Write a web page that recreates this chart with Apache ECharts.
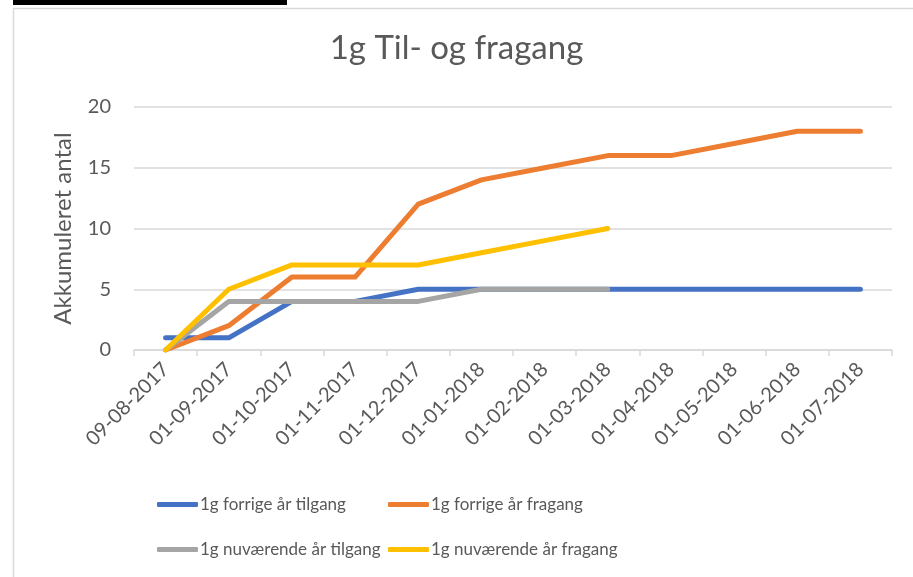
<!DOCTYPE html>
<html>
<head>
<meta charset="utf-8">
<script src="https://cdn.jsdelivr.net/npm/echarts@6/dist/echarts.min.js"></script>
<style>html,body{margin:0;padding:0;background:#fff}#c{width:913px;height:577px}</style>
</head>
<body>
<div id="c"></div>
<script>
var categories = ['09-08-2017','01-09-2017','01-10-2017','01-11-2017','01-12-2017','01-01-2018','01-02-2018','01-03-2018','01-04-2018','01-05-2018','01-06-2018','01-07-2018'];
var forrigeTilgang = [1,1,4,4,5,5,5,5,5,5,5,5];
var forrigeFragang = [0,2,6,6,12,14,15,16,16,17,18,18];
var nuvTilgang = [0,4,4,4,4,5,5,5];
var nuvFragang = [0,5,7,7,7,8,9,10];
var seriesNames = ['1g forrige år tilgang','1g forrige år fragang','1g nuværende år tilgang','1g nuværende år fragang'];
var colors = ['#4472C4','#ED7D31','#A5A5A5','#FFC000'];

var FONT = 'Lato';
var txt = '#595959';
var chart = echarts.init(document.getElementById('c'), null, {renderer:'canvas'});
function legendAt(i, left, top){
  return {data:[seriesNames[i]], left:left, top:top, icon:'roundRect', itemWidth:41, itemHeight:5, itemGap:0,
    textStyle:{fontFamily:FONT, fontSize:17, color:txt, padding:[0,0,0,-3]}};
}
chart.setOption({
  animation:false,
  color: colors,
  title:{text:'1g Til- og fragang', left:'center', top:27, textStyle:{fontFamily:FONT, fontSize:33, fontWeight:'normal', color:txt}},
  grid:{left:134, right:21, top:107, bottom:227, containLabel:false},
  legend:[legendAt(0,152,491), legendAt(1,383,491), legendAt(2,152,536), legendAt(3,383,536)],
  xAxis:{type:'category', data:categories, boundaryGap:true,
    axisLine:{lineStyle:{color:'#d9d9d9', width:1.5}},
    axisTick:{show:true, length:6, lineStyle:{color:'#d9d9d9', width:1.5}},
    axisLabel:{rotate:45, fontFamily:FONT, fontSize:20, color:txt, margin:16, interval:0}},
  yAxis:{type:'value', min:0, max:20, interval:5, name:'Akkumuleret antal', nameLocation:'middle', nameGap:59, nameRotate:90,
    nameTextStyle:{fontFamily:FONT, fontSize:24, color:txt},
    axisLine:{show:false}, axisTick:{show:false},
    splitLine:{lineStyle:{color:'#d9d9d9', width:1.5}},
    axisLabel:{fontFamily:FONT, fontSize:20, color:txt, margin:23}},
  graphic:[
    {type:'rect', shape:{x:13.5, y:8.5, width:1000, height:1000}, style:{fill:'none', stroke:'#d9d9d9', lineWidth:1.5}, silent:true},
    {type:'rect', shape:{x:13, y:0, width:274, height:5}, style:{fill:'#000'}, silent:true}
  ],
  series:[
    {name:seriesNames[0], type:'line', data:forrigeTilgang, symbol:'none', lineStyle:{width:5, cap:'round', join:'round'}},
    {name:seriesNames[1], type:'line', data:forrigeFragang, symbol:'none', lineStyle:{width:5, cap:'round', join:'round'}},
    {name:seriesNames[2], type:'line', data:nuvTilgang, symbol:'none', lineStyle:{width:5, cap:'round', join:'round'}},
    {name:seriesNames[3], type:'line', data:nuvFragang, symbol:'none', lineStyle:{width:5, cap:'round', join:'round'}}
  ]
});
</script>
</body>
</html>
